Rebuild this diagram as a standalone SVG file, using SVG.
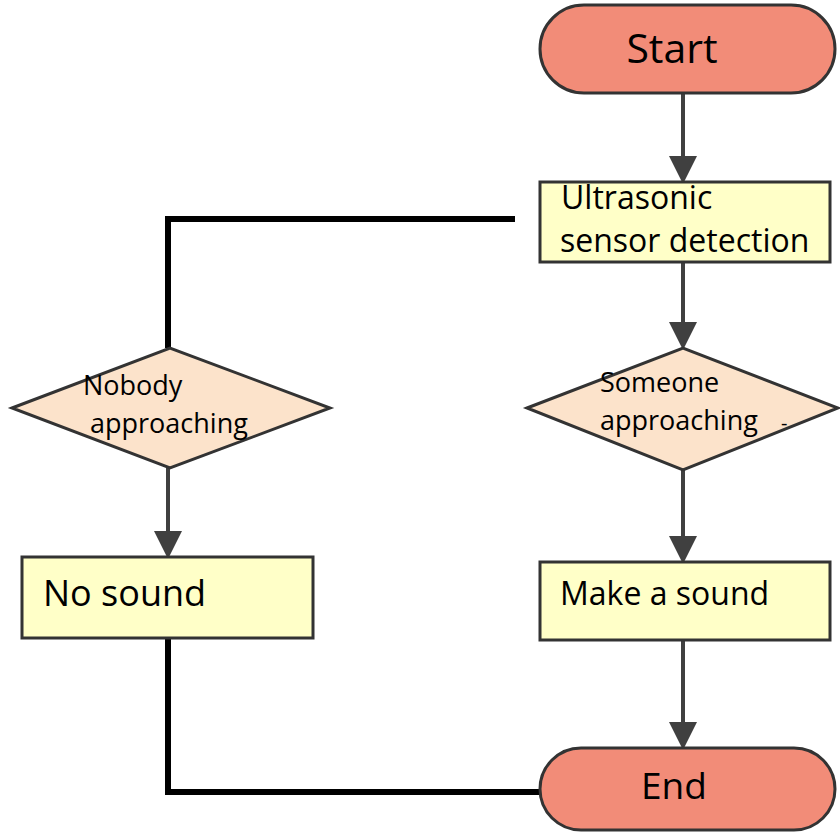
<svg xmlns="http://www.w3.org/2000/svg" width="840" height="835" viewBox="0 0 840 835">
<style>
.pill{fill:#F28C78;stroke:#333;stroke-width:3}
.box{fill:#FFFFC8;stroke:#333;stroke-width:3}
.dia{fill:#FCE3CB;stroke:#333;stroke-width:3}
.t{font-family:"Open Sans",Lato,sans-serif;fill:#000}
.arr{stroke:#404040;stroke-width:4;fill:none}
.blk{stroke:#000;stroke-width:6;fill:none}
</style>
<defs>
<marker id="ah" markerWidth="7" markerHeight="8" refX="6" refY="3.5" orient="auto" markerUnits="strokeWidth">
<path d="M0,0 L7,3.5 L0,7 Z" fill="#404040"/>
</marker>
</defs>
<rect width="840" height="835" fill="#fff"/>
<g id="connectors">
<line class="arr" x1="683" y1="93" x2="683" y2="180" marker-end="url(#ah)"/>
<line class="arr" x1="683" y1="262" x2="683" y2="346" marker-end="url(#ah)"/>
<line class="arr" x1="683" y1="470" x2="683" y2="560" marker-end="url(#ah)"/>
<line class="arr" x1="683" y1="640" x2="683" y2="746" marker-end="url(#ah)"/>
<line class="arr" x1="168" y1="468" x2="168" y2="555" marker-end="url(#ah)"/>
<polyline class="blk" points="515,219 168,219 168,348"/>
<polyline class="blk" points="168,638 168,792 542,792"/>
</g>
<g id="start">
<rect class="pill" x="540" y="5" width="295" height="88" rx="44"/>
<text class="t" x="672" y="63" font-size="41" text-anchor="middle">Start</text>
</g>
<g id="ultrasonic">
<rect class="box" x="540" y="182" width="290" height="80"/>
<text class="t" x="561" y="209" font-size="32">Ultrasonic</text>
<text class="t" x="560" y="252" font-size="32">sensor detection</text>
</g>
<g id="nobody">
<polygon class="dia" points="12,408 170,348 330,408 170,468"/>
<text class="t" x="83" y="395" font-size="27">Nobody</text>
<text class="t" x="90" y="433" font-size="27">approaching</text>
</g>
<g id="someone">
<polygon class="dia" points="527,408 683,348 838,408 683,470"/>
<text class="t" x="600" y="392" font-size="27">Someone</text>
<text class="t" x="600" y="430" font-size="27">approaching</text>
<text class="t" x="781" y="430" font-size="20">-</text>
</g>
<g id="nosound">
<rect class="box" x="22" y="557" width="291" height="81"/>
<text class="t" x="43" y="606" font-size="36">No sound</text>
</g>
<g id="makesound">
<rect class="box" x="540" y="562" width="290" height="78"/>
<text class="t" x="560" y="605" font-size="32">Make a sound</text>
</g>
<g id="end">
<rect class="pill" x="540" y="748" width="295" height="82" rx="41"/>
<text class="t" x="674" y="799" font-size="37" text-anchor="middle">End</text>
</g>
</svg>
